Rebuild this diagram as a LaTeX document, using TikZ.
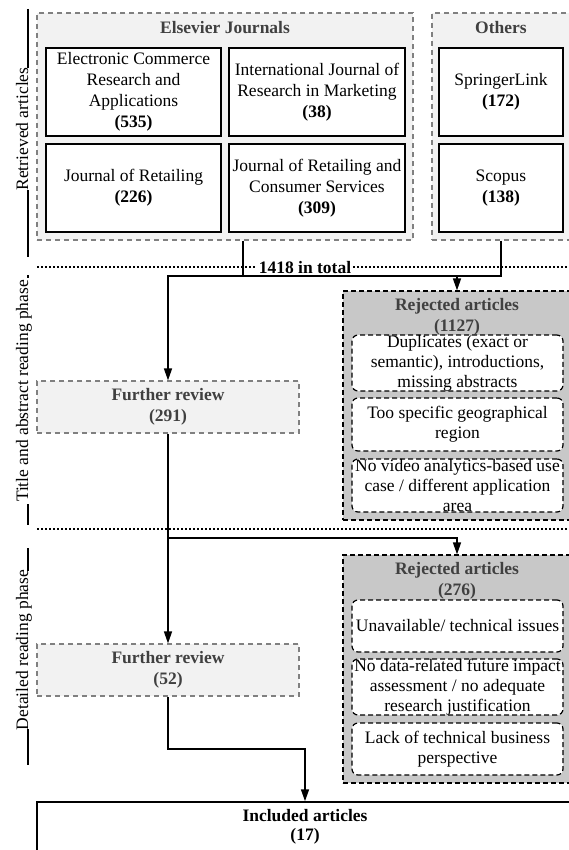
\documentclass[tikz,border=0pt]{standalone}
\usepackage{fontspec}
\setmainfont{Liberation Serif}
\usetikzlibrary{arrows.meta}
\definecolor{lightfill}{HTML}{F2F2F2}
\definecolor{darkfill}{HTML}{C8C8C8}
\definecolor{dashgray}{HTML}{808080}
\definecolor{txtgray}{HTML}{404040}
\begin{document}
\begin{tikzpicture}[x=1pt,y=-1pt,
  every node/.style={font=\fontsize{17.5}{21}\selectfont, inner sep=0pt, align=center},
  group/.style={draw=dashgray, fill=lightfill, dash pattern=on 5pt off 4pt, line width=1.2pt},
  src/.style={draw=black, fill=white, line width=1.5pt},
  further/.style={draw=dashgray, fill=lightfill, dash pattern=on 5pt off 4pt, line width=1.2pt, text=txtgray, font=\fontsize{17.5}{21}\selectfont\bfseries},
  reject/.style={draw=black, fill=darkfill, dash pattern=on 5pt off 3pt, line width=1.2pt},
  reason/.style={draw=black, fill=white, rounded corners=6pt, dash pattern=on 5pt off 3pt, line width=1.2pt, font=\fontsize{17.5}{20}\selectfont},
  grouptitle/.style={text=txtgray, font=\fontsize{17.5}{21}\selectfont\bfseries},
  conn/.style={line width=1.5pt},
  arr/.style={conn, -{Triangle[length=12pt,width=8pt]}},
  phase/.style={rotate=90, anchor=base},
  sepline/.style={line width=1.2pt, dash pattern=on 1.5pt off 2.5pt}
]
\useasboundingbox (0,0) rectangle (569,850);
\fill[white] (0,0) rectangle (569,850);
\clip (0,0) rectangle (569,850);

% separators
\draw[sepline] (37,267) -- (569,267);
\draw[sepline] (37,529) -- (569,529);
\node[fill=white, inner xsep=2pt, inner ysep=0.5pt, font=\fontsize{17.5}{21}\selectfont\bfseries] (total) at (305,268) {1418 in total};

% phase labels
\node[phase] (ph1) at (28,129) {Retrieved articles};
\node[phase] (ph2) at (28,391) {Title and abstract reading phase};
\node[phase] (ph3) at (28,650) {Detailed reading phase};
\draw[conn] (28,9) -- (28,68);
\draw[conn] (28,190) -- (28,257);
\draw[conn] (28,275) -- (28,278);
\draw[conn] (28,504) -- (28,525);
\draw[conn] (28,548) -- (28,571);
\draw[conn] (28,729) -- (28,765);

% retrieved groups
\node[group, minimum width=376pt, minimum height=227pt] (elsevier) at (225,126.5) {};
\node[grouptitle] (elsT) at (225,28) {Elsevier Journals};
\node[group, minimum width=138pt, minimum height=227pt] (others) at (501,126.5) {};
\node[grouptitle] (othT) at (501,28) {Others};

\node[src, minimum width=175pt, minimum height=88pt] (ecra) at (133.5,92) {Electronic Commerce\\Research and\\Applications\\\textbf{(535)}};
\node[src, minimum width=176pt, minimum height=88pt] (ijrm) at (317,92) {International Journal of\\Research in Marketing\\\textbf{(38)}};
\node[src, minimum width=175pt, minimum height=88pt] (jor) at (133.5,188) {Journal of Retailing\\\textbf{(226)}};
\node[src, minimum width=176pt, minimum height=88pt] (jrcs) at (317,188) {Journal of Retailing and\\Consumer Services\\\textbf{(309)}};
\node[src, minimum width=124pt, minimum height=88pt] (spr) at (501,92) {SpringerLink\\\textbf{(172)}};
\node[src, minimum width=124pt, minimum height=88pt] (sco) at (501,188) {Scopus\\\textbf{(138)}};

% title/abstract phase
\node[further, minimum width=262pt, minimum height=52pt] (fr1) at (168,407) {Further review\\(291)};
\node[reject, minimum width=228pt, minimum height=229pt] (rej1) at (457,405.5) {};
\node[grouptitle] (rej1T) at (457,317) {Rejected articles\\(1127)};
\node[reason, minimum width=211pt, minimum height=52pt] (r1a) at (457.5,363) {Duplicates (exact or\\semantic), introductions,\\missing abstracts};
\node[reason, minimum width=211pt, minimum height=53pt] (r1b) at (457.5,424.5) {Too specific geographical\\region};
\node[reason, minimum width=211pt, minimum height=53pt] (r1c) at (457.5,485.5) {No video analytics-based use\\case / different application\\area};

% detailed phase
\node[further, minimum width=262pt, minimum height=52pt] (fr2) at (168,670) {Further review\\(52)};
\node[reject, minimum width=228pt, minimum height=228pt] (rej2) at (457,669) {};
\node[grouptitle] (rej2T) at (457,581) {Rejected articles\\(276)};
\node[reason, minimum width=211pt, minimum height=52pt] (r2a) at (457.5,626) {Unavailable/ technical issues};
\node[reason, minimum width=211pt, minimum height=54pt] (r2b) at (457.5,687) {No data-related future impact\\assessment / no adequate\\research justification};
\node[reason, minimum width=211pt, minimum height=52pt] (r2c) at (457.5,749) {Lack of technical business\\perspective};

% included
\node[draw=black, fill=white, line width=1.5pt, minimum width=536pt, minimum height=50pt, font=\fontsize{17.5}{19}\selectfont\bfseries] (incl) at (305,827) {Included articles\\(17)};

% connectors
\coordinate (j1) at (243,276);
\coordinate (j3) at (168,538);
\coordinate (j4) at (168,749);
\draw[conn] (elsevier.south -| j1) -- (j1);
\draw[arr] (others.south) |- (j1) -| (fr1.north);
\draw[arr] (rej1.north |- j1) -- (rej1.north);
\draw[arr] (fr1.south) -- (fr2.north);
\draw[arr] (j3) -| (rej2.north);
\draw[arr] (fr2.south) -- (j4) -| (incl.north);
\end{tikzpicture}
\end{document}
